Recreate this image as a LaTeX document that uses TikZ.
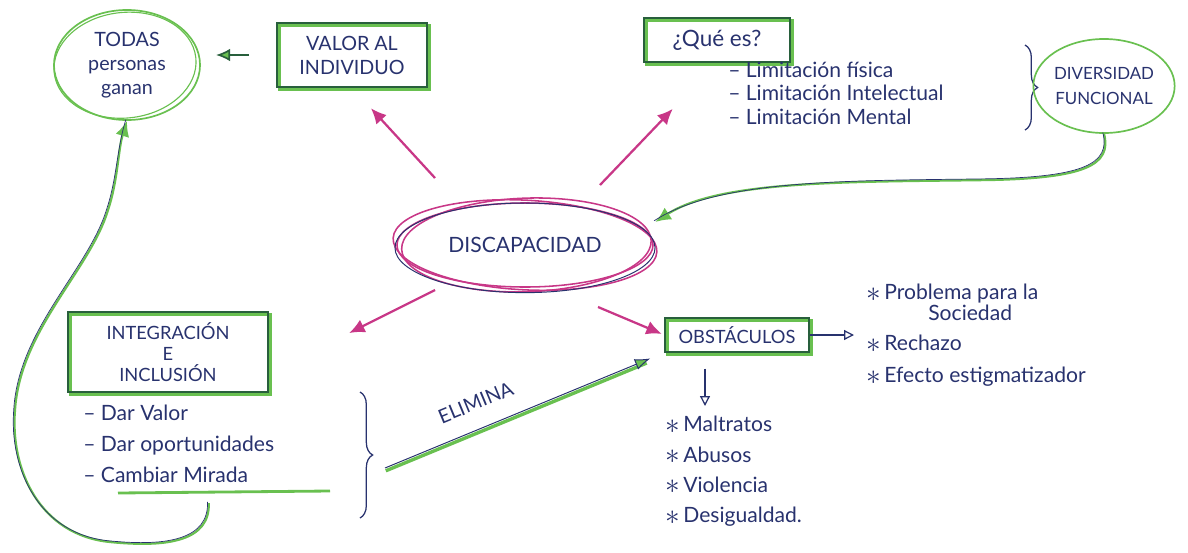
\documentclass[tikz,border=0pt]{standalone}
\usepackage{fontspec}
\setmainfont{Lato}
\usetikzlibrary{arrows.meta,shapes.geometric,calc,decorations.pathreplacing}
\definecolor{hgreen}{RGB}{105,192,80}
\definecolor{dgreen}{RGB}{40,95,60}
\definecolor{ink}{RGB}{40,50,110}
\definecolor{hpink}{RGB}{200,55,135}
\newcommand{\starmark}{\raisebox{-0.15ex}{\fontsize{21}{21}\selectfont$\ast$}\,}
\begin{document}
\begin{tikzpicture}[x=0.025cm,y=-0.025cm,
  txt/.style={text=ink, font=\fontsize{14}{17}\selectfont, align=center, inner sep=0pt},
  lst/.style={text=ink, font=\fontsize{15}{16.5}\selectfont, align=left, inner sep=0pt},
  hbox/.style={txt, draw=dgreen, line width=0.9pt,
    preaction={draw=hgreen, line width=2.2pt, transform canvas={shift={(0.06cm,-0.06cm)}}}},
  circ/.style={txt, ellipse, draw=hgreen, line width=1.2pt, inner sep=0pt},
  pinkarr/.style={draw=hpink, line width=1.6pt, -{Latex[length=11pt,width=10pt]}},
  garr/.style={draw=dgreen, line width=1.2pt, -{Latex[length=10pt,width=9pt,fill=hgreen]}},
  gcurve/.style={draw=hgreen, line width=1.6pt, -{Latex[length=11pt,width=10pt,fill=hgreen]},
    postaction={draw=ink, line width=0.5pt, -, transform canvas={shift={(-0.03cm,0.03cm)}}}},
  openarr/.style={draw=ink, line width=0.9pt, -{Triangle[open,length=7pt,width=7pt]}},
  hbrace/.style={draw=ink, line width=0.9pt, decorate, decoration={brace, amplitude=9pt}},
]
\useasboundingbox (0,0) rectangle (1188,552);

% nodes
\node[circ, minimum width=3.65cm, minimum height=2.75cm] (todas) at (127,65) {TODAS\\personas\\ganan};
\draw[hgreen, line width=0.8pt, rotate around={6:(todas.center)}] ([xshift=-0.05cm]todas.center) ellipse [x radius=1.78cm, y radius=1.32cm];

\node[hbox, minimum width=3.75cm, minimum height=1.6cm] (valor) at (352,55) {VALOR AL\\INDIVIDUO};

\node[hbox, minimum width=3.65cm, minimum height=1.1cm, font=\fontsize{16}{18}\selectfont] (que) at (717,40) {¿Qué es?};
\node[lst, anchor=north west, font=\fontsize{15}{16.5}\selectfont] (quelist) at (728,62) {– Limitación física\\– Limitación Intelectual\\– Limitación Mental};
\draw[hbrace] (1025,45) -- (1025,130);

\node[circ, minimum width=3.0cm, minimum height=2.35cm, font=\fontsize{12}{18}\selectfont] (div) at (1104,86) {DIVERSIDAD\\FUNCIONAL};

\node[txt, ellipse, minimum width=6.5cm, minimum height=2.25cm, font=\fontsize{15}{18}\selectfont] (disc) at (525,245) {DISCAPACIDAD};
\draw[hpink, line width=1.1pt] (disc.center) ellipse [x radius=3.2cm, y radius=1.05cm];
\draw[hpink, line width=1.1pt, rotate around={-3:(disc.center)}] (disc.center) ellipse [x radius=3.3cm, y radius=1.12cm];
\draw[hpink, line width=1.1pt, rotate around={2:(disc.center)}] ([xshift=1pt]disc.center) ellipse [x radius=3.12cm, y radius=1.17cm];
\draw[ink, line width=0.7pt] ([yshift=-2pt]disc.center) ellipse [x radius=3.25cm, y radius=1.12cm];

\node[hbox, minimum width=5cm, minimum height=2cm, font=\fontsize{13}{15}\selectfont] (integ) at (168,352) {INTEGRACIÓN\\E\\INCLUSIÓN};
\node[lst, anchor=north west, font=\fontsize{15}{22}\selectfont] (ilist) at (83,405) {– Dar Valor\\– Dar oportunidades\\– Cambiar Mirada};
\draw[hgreen, line width=2pt] (118,493) -- (330,491);
\draw[hbrace] (360,392) -- (360,518);

\node[hbox, minimum width=3.6cm, minimum height=0.85cm, font=\fontsize{13}{15}\selectfont] (obst) at (737,335) {OBSTÁCULOS};

\node[lst, anchor=north west, font=\fontsize{15}{15}\selectfont] (rlist) at (866,284) {\starmark Problema para la\\\hspace{1.55cm}Sociedad\\[6pt]\starmark Rechazo\\[8pt]\starmark Efecto estigmatizador};

\node[lst, anchor=north west, font=\fontsize{15}{21.5}\selectfont] (blist) at (665,416) {\starmark Maltratos\\\starmark Abusos\\\starmark Violencia\\\starmark Desigualdad.};

% connectors
\draw[pinkarr, shorten >=0.7cm] ([shift={(-90,-67)}]disc.center) -- (valor.south);
\draw[pinkarr, shorten >=1.6cm] ([shift={(75,-60)}]disc.center) -- (que.south);
\draw[pinkarr, shorten >=2.25cm] ([shift={(-90,45)}]disc.center) -- (integ.-12);
\draw[pinkarr, shorten >=2pt] ([shift={(73,62)}]disc.center) -- (obst.west);

\draw[garr, shorten <=0.68cm, shorten >=0.38cm] (valor.west) -- (valor.west -| todas.east);

\draw[gcurve] (div.south) .. controls (1112,165) and (1085,178) .. (990,180)
   .. controls (850,182) and (720,180) .. ([yshift=0.575cm]disc.east);

\draw[gcurve] ([shift={(30,20)}]ilist.south) .. controls (210,540) and (170,548) .. (110,542)
   .. controls (40,535) and (10,470) .. (15,410)
   .. controls (20,330) and (90,270) .. (108,210)
   .. controls (118,180) and (118,150) .. (todas.south);

\coordinate (elimstart) at (385,468);
\draw[draw=ink, line width=0.7pt, shorten >=0.38cm, -{Latex[length=11pt,width=8pt,fill=hgreen]},
  preaction={draw=hgreen, line width=2.4pt, -, shorten >=0.5cm, transform canvas={shift={(0.02cm,-0.07cm)}}}]
  (elimstart) -- node[pos=0.36, sloped, above=13pt, txt] {ELIMINA} (obst.south west);

\draw[openarr, shorten >=0.3cm] (obst.east) -- (obst.east -| rlist.west);
\draw[openarr, shorten <=0.4cm, shorten >=0.25cm] ([xshift=-0.8cm]obst.south) -- ([xshift=-0.8cm]obst.south |- blist.north);
\end{tikzpicture}
\end{document}
